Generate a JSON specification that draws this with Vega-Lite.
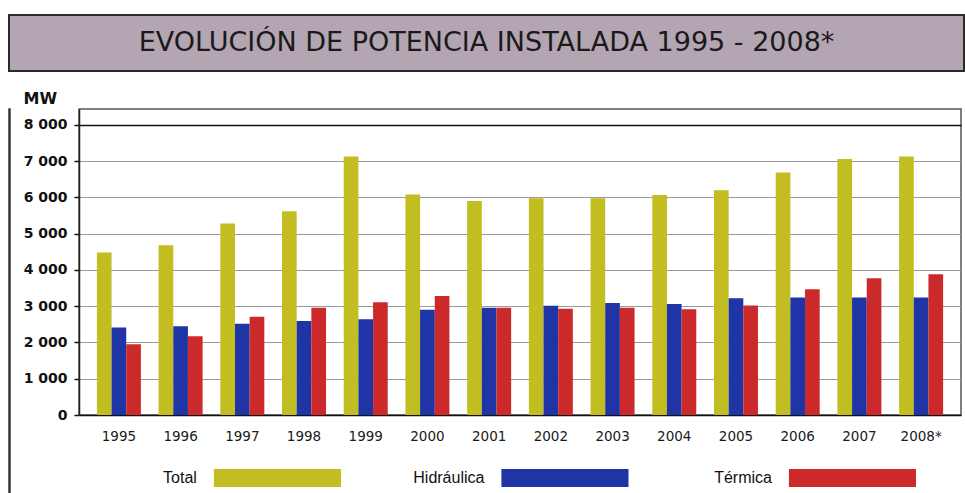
{
  "$schema": "https://vega.github.io/schema/vega-lite/v6.json",
  "background": "white",
  "padding": {"left": 8, "top": 14, "right": 0, "bottom": 0},
  "config": {
    "view": {"stroke": null},
    "font": "Liberation Sans"
  },
  "spacing": 0,
  "resolve": {"scale": {"x": "independent", "color": "independent"}},
  "vconcat": [
    {
      "width": 955,
      "height": 56,
      "view": {"fill": "#b3a5b1", "stroke": "#2a2a2a", "strokeWidth": 2},
      "data": {"values": [{"titulo": "EVOLUCIÓN DE POTENCIA INSTALADA 1995 - 2008*"}]},
      "mark": {"type": "text", "font": "DejaVu Sans", "fontSize": 27, "color": "#1a1a1a", "baseline": "middle", "align": "center"},
      "encoding": {"text": {"field": "titulo", "type": "nominal"}}
    },
    {
      "spacing": 11,
      "resolve": {"scale": {"x": "independent", "color": "independent"}},
      "hconcat": [
        {
          "width": 1,
          "height": 423,
          "view": {"stroke": "#333333", "strokeWidth": 1.5, "fill": null},
          "data": {"values": [{"t": ""}]},
          "mark": {"type": "text"},
          "encoding": {"text": {"field": "t", "type": "nominal"}}
        },
        {
          "spacing": 25,
          "resolve": {"scale": {"x": "independent", "color": "independent"}},
          "vconcat": [
            {
              "width": 882,
              "height": 306,
              "title": {"text": " ", "fontSize": 10, "offset": 7, "anchor": "start"},
              "view": {"stroke": "#555555", "strokeWidth": 1.5},
              "data": {"values": [
                {"anio": "1995", "serie": "Total", "mw": 4480},
                {"anio": "1995", "serie": "Hidráulica", "mw": 2410},
                {"anio": "1995", "serie": "Térmica", "mw": 1950},
                {"anio": "1996", "serie": "Total", "mw": 4680},
                {"anio": "1996", "serie": "Hidráulica", "mw": 2450},
                {"anio": "1996", "serie": "Térmica", "mw": 2170},
                {"anio": "1997", "serie": "Total", "mw": 5280},
                {"anio": "1997", "serie": "Hidráulica", "mw": 2520},
                {"anio": "1997", "serie": "Térmica", "mw": 2710},
                {"anio": "1998", "serie": "Total", "mw": 5620},
                {"anio": "1998", "serie": "Hidráulica", "mw": 2590},
                {"anio": "1998", "serie": "Térmica", "mw": 2960},
                {"anio": "1999", "serie": "Total", "mw": 7130},
                {"anio": "1999", "serie": "Hidráulica", "mw": 2640},
                {"anio": "1999", "serie": "Térmica", "mw": 3110},
                {"anio": "2000", "serie": "Total", "mw": 6080},
                {"anio": "2000", "serie": "Hidráulica", "mw": 2900},
                {"anio": "2000", "serie": "Térmica", "mw": 3280},
                {"anio": "2001", "serie": "Total", "mw": 5900},
                {"anio": "2001", "serie": "Hidráulica", "mw": 2960},
                {"anio": "2001", "serie": "Térmica", "mw": 2960},
                {"anio": "2002", "serie": "Total", "mw": 5980},
                {"anio": "2002", "serie": "Hidráulica", "mw": 3010},
                {"anio": "2002", "serie": "Térmica", "mw": 2930},
                {"anio": "2003", "serie": "Total", "mw": 5980},
                {"anio": "2003", "serie": "Hidráulica", "mw": 3090},
                {"anio": "2003", "serie": "Térmica", "mw": 2960},
                {"anio": "2004", "serie": "Total", "mw": 6070},
                {"anio": "2004", "serie": "Hidráulica", "mw": 3060},
                {"anio": "2004", "serie": "Térmica", "mw": 2920},
                {"anio": "2005", "serie": "Total", "mw": 6200},
                {"anio": "2005", "serie": "Hidráulica", "mw": 3220},
                {"anio": "2005", "serie": "Térmica", "mw": 3020},
                {"anio": "2006", "serie": "Total", "mw": 6690},
                {"anio": "2006", "serie": "Hidráulica", "mw": 3240},
                {"anio": "2006", "serie": "Térmica", "mw": 3470},
                {"anio": "2007", "serie": "Total", "mw": 7060},
                {"anio": "2007", "serie": "Hidráulica", "mw": 3240},
                {"anio": "2007", "serie": "Térmica", "mw": 3770},
                {"anio": "2008*", "serie": "Total", "mw": 7130},
                {"anio": "2008*", "serie": "Hidráulica", "mw": 3240},
                {"anio": "2008*", "serie": "Térmica", "mw": 3880}
              ]},
              "mark": {"type": "bar"},
              "encoding": {
                "x": {
                  "field": "anio", "type": "nominal", "sort": null,
                  "scale": {"paddingInner": 0.287, "paddingOuter": 0.29},
                  "axis": {
                    "title": null, "labelAngle": 0, "ticks": false, "labelPadding": 14,
                    "labelFont": "DejaVu Sans", "labelFontSize": 13.5, "labelColor": "#1a1a1a",
                    "domainColor": "#111111", "domainWidth": 1.5
                  }
                },
                "xOffset": {"field": "serie", "type": "nominal", "sort": ["Total", "Hidráulica", "Térmica"], "scale": {"paddingInner": 0}},
                "y": {
                  "field": "mw", "type": "quantitative",
                  "scale": {"domain": [0, 8440], "nice": false, "zero": true},
                  "axis": {
                    "values": [0, 1000, 2000, 3000, 4000, 5000, 6000, 7000, 8000],
                    "labelExpr": "replace(format(datum.value, ','), ',', ' ')",
                    "labelFont": "DejaVu Sans", "labelFontWeight": "bold", "labelFontSize": 14, "labelColor": "#111111",
                    "labelPadding": 7, "tickSize": 5, "tickColor": "#111111", "tickWidth": 1.5,
                    "domainColor": "#222222", "domainWidth": 1.5,
                    "grid": true,
                    "gridColor": {"condition": {"test": "datum.value === 8000", "value": "#111111"}, "value": "#9a9a9a"},
                    "gridWidth": {"condition": {"test": "datum.value === 8000", "value": 1.5}, "value": 1},
                    "title": "MW", "titleAngle": 0, "titleAlign": "left", "titleBaseline": "alphabetic",
                    "titleX": -56, "titleY": -6,
                    "titleFont": "DejaVu Sans", "titleFontWeight": "bold", "titleFontSize": 16, "titleColor": "#111111"
                  }
                },
                "color": {
                  "field": "serie", "type": "nominal",
                  "scale": {"domain": ["Total", "Hidráulica", "Térmica"], "range": ["#c2bd20", "#1f35a5", "#cc2a2a"]},
                  "legend": null
                }
              }
            },
            {
              "width": 837,
              "height": 18,
              "data": {"values": [{"serie": "Total"}, {"serie": "Hidráulica"}, {"serie": "Térmica"}]},
              "layer": [
                {
                  "mark": {"type": "bar"},
                  "encoding": {
                    "x": {"field": "serie", "type": "nominal", "sort": ["Total", "Hidráulica", "Térmica"],
                          "scale": {"paddingInner": 0.558, "paddingOuter": 0.2346, "align": 1}, "axis": null},
                    "color": {
                      "field": "serie", "type": "nominal",
                      "scale": {"domain": ["Total", "Hidráulica", "Térmica"], "range": ["#c2bd20", "#1f35a5", "#cc2a2a"]},
                      "legend": null
                    }
                  }
                },
                {
                  "mark": {"type": "text", "align": "right", "dx": -17, "baseline": "middle", "font": "Liberation Sans", "fontSize": 16, "color": "#111111"},
                  "encoding": {
                    "x": {"field": "serie", "type": "nominal", "sort": ["Total", "Hidráulica", "Térmica"], "bandPosition": 0,
                          "scale": {"paddingInner": 0.558, "paddingOuter": 0.2346, "align": 1}, "axis": null},
                    "text": {"field": "serie", "type": "nominal"}
                  }
                }
              ]
            }
          ]
        }
      ]
    }
  ]
}
